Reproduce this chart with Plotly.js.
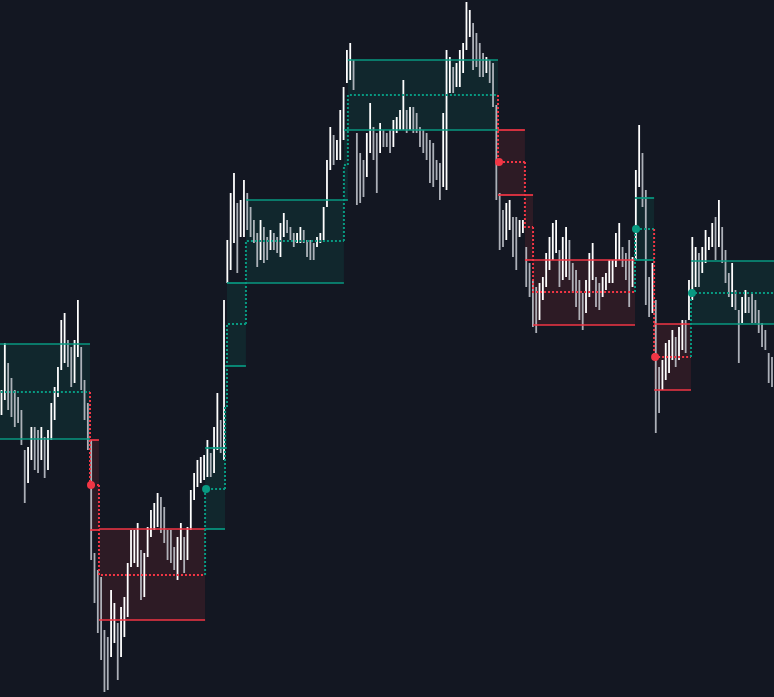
<!DOCTYPE html>
<html><head><meta charset="utf-8">
<script src="https://cdn.plot.ly/plotly-3.0.1.min.js"></script>
<style>html,body{margin:0;padding:0;background:#131722;overflow:hidden}#chart{width:774px;height:697px;}</style>
</head><body><div id="chart"></div>
<script>
// Price bars (high / low per bar)
const barHigh = [310,357,337,322,310,303,290,250,253,273,273,270,273,263,270,297,313,333,380,387,
360,353,360,400,353,320,297,260,147,130,123,70,63,110,97,77,93,103,137,170,
170,177,150,147,173,190,197,207,203,193,170,170,153,163,177,163,173,210,227,240,
243,245,260,247,273,307,280,400,460,507,527,497,500,520,507,493,480,467,480,473,
463,470,467,463,477,487,480,473,467,467,473,470,460,460,457,463,467,493,540,573,
565,560,590,613,650,657,640,567,547,540,567,597,573,567,577,570,567,570,580,583,
590,620,590,593,593,587,573,570,567,560,557,540,537,587,650,643,633,637,650,657,
698,690,677,667,657,647,643,640,637,595,507,490,497,500,483,483,480,480,453,437,
420,413,417,423,447,463,477,480,450,463,473,460,437,430,420,407,420,447,457,423,
417,423,427,440,440,467,477,453,447,460,443,530,575,547,510,423,437,400,333,340,
357,360,370,363,373,380,380,420,463,453,447,453,470,463,477,483,500,473,450,427,
437,410,390,403,410,403,407,400,390,377,370,347,343];
const barLow = [285,300,290,283,273,277,255,197,217,240,230,227,240,222,230,260,280,303,330,337,
333,313,317,343,310,280,250,140,97,67,40,8,10,43,57,20,43,63,83,133,
137,133,100,103,143,163,170,173,167,157,140,137,130,120,140,127,140,170,200,213,
217,220,223,223,227,250,247,240,417,430,457,427,463,463,470,463,457,433,440,437,
440,450,450,447,443,463,467,460,453,457,457,457,443,440,440,453,457,460,493,530,
535,540,540,560,617,620,610,495,497,503,523,547,540,507,547,553,553,547,553,567,
570,570,567,570,567,567,553,547,540,517,513,520,500,513,510,607,607,613,613,627,
650,663,630,633,623,623,627,617,593,500,450,453,460,470,443,430,463,467,413,403,
373,367,380,400,413,430,440,447,413,420,423,420,407,393,380,370,387,403,420,393,
390,403,410,417,417,433,440,433,420,393,413,440,513,493,395,383,387,267,287,310,
320,327,340,333,340,350,347,380,400,413,413,427,437,450,453,440,453,437,417,403,
393,390,337,377,387,387,377,377,367,353,350,317,313];

// Trend boxes (segments), x in bar index
const segStart = [-5, 26.65, 29.35, 61.3, 67.3, 67.9, 73.6, 103.1, 104.3, 149.5, 157.6, 160.05, 190.75, 196.5, 207.6];
const segEnd   = [26.65, 29.35, 61.3, 67.3, 67.9, 73.6, 103.1, 104.3, 149.5, 157.6, 160.05, 190.75, 196.5, 207.6, 240];
const segTop = [356, 260, 171, 252, 334, 417, 500, 570, 640, 570, 505, 440, 502, 376, 439];
const segMid = [308, 215, 125, 211, 293, 376, 459, 535, 605, 538, 473, 408, 471, 343, 407];
const segBot = [261, 170, 80, 171, 252, 334, 417, 500, 570, 505, 440, 375, 440, 310, 376];
const segDir = [1, -1, -1, 1, 1, 1, 1, 1, 1, -1, -1, -1, 1, -1, 1];

const TEAL = '#089981', RED = '#f23645';
const TEAL_F = 'rgba(8,153,129,0.12)', RED_F = 'rgba(242,54,69,0.12)';
const traces = [];

// box fills
for (let i = 0; i < segStart.length; i++) {
  const s = segStart[i], e = segEnd[i];
  traces.push({type:'scatter', mode:'lines', x:[s,e,e,s,s], y:[segTop[i],segTop[i],segBot[i],segBot[i],segTop[i]],
    fill:'toself', fillcolor: segDir[i] > 0 ? TEAL_F : RED_F, line:{width:0, color:'rgba(0,0,0,0)'}, hoverinfo:'skip'});
}

// price bars
const upX = [], upY = [], dnX = [], dnY = [];
for (let k = 0; k < barHigh.length; k++) {
  const m = (barHigh[k] + barLow[k]) / 2;
  const pm = k > 0 ? (barHigh[k-1] + barLow[k-1]) / 2 : m;
  if (m >= pm) { upX.push(k, k, null); upY.push(barLow[k], barHigh[k], null); }
  else { dnX.push(k, k, null); dnY.push(barLow[k], barHigh[k], null); }
}
traces.push({type:'scatter', mode:'lines', x:dnX, y:dnY, line:{color:'rgba(200,203,210,0.85)', width:1.8}, hoverinfo:'skip'});
traces.push({type:'scatter', mode:'lines', x:upX, y:upY, line:{color:'#ffffff', width:1.8}, hoverinfo:'skip'});

// top / bottom lines
for (let i = 0; i < segStart.length; i++) {
  const c = segDir[i] > 0 ? TEAL : RED;
  traces.push({type:'scatter', mode:'lines', x:[segStart[i], segEnd[i]], y:[segTop[i], segTop[i]], line:{color:c, width:1.7}, hoverinfo:'skip'});
  traces.push({type:'scatter', mode:'lines', x:[segStart[i], segEnd[i]], y:[segBot[i], segBot[i]], line:{color:c, width:1.7}, hoverinfo:'skip'});
}

// dotted midline steps
for (let i = 0; i < segStart.length; i++) {
  const c = segDir[i] > 0 ? TEAL : RED;
  const xs = i > 0 ? [segStart[i], segStart[i], segEnd[i]] : [segStart[i], segEnd[i]];
  const ys = i > 0 ? [segMid[i-1], segMid[i], segMid[i]] : [segMid[i], segMid[i]];
  traces.push({type:'scatter', mode:'lines', x:xs, y:ys, line:{color:c, width:2, dash:'2px,2px'}, hoverinfo:'skip'});
}

// trend change markers
const mkX = [], mkY = [], mkC = [];
for (let i = 1; i < segStart.length; i++) {
  if (segDir[i] !== segDir[i-1]) { mkX.push(segStart[i] + 0.3); mkY.push(segMid[i]); mkC.push(segDir[i] > 0 ? TEAL : RED); }
}
traces.push({type:'scatter', mode:'markers', x:mkX, y:mkY, marker:{color:mkC, size:8, line:{width:0}}, hoverinfo:'skip'});

const layout = {
  width:774, height:697,
  margin:{l:0, r:0, t:0, b:0, pad:0},
  paper_bgcolor:'#131722', plot_bgcolor:'#131722',
  showlegend:false,
  xaxis:{range:[-0.45, 232.6], visible:false, fixedrange:true},
  yaxis:{range:[3, 700], visible:false, fixedrange:true}
};
Plotly.newPlot('chart', traces, layout, {displayModeBar:false, staticPlot:true});
</script></body></html>
